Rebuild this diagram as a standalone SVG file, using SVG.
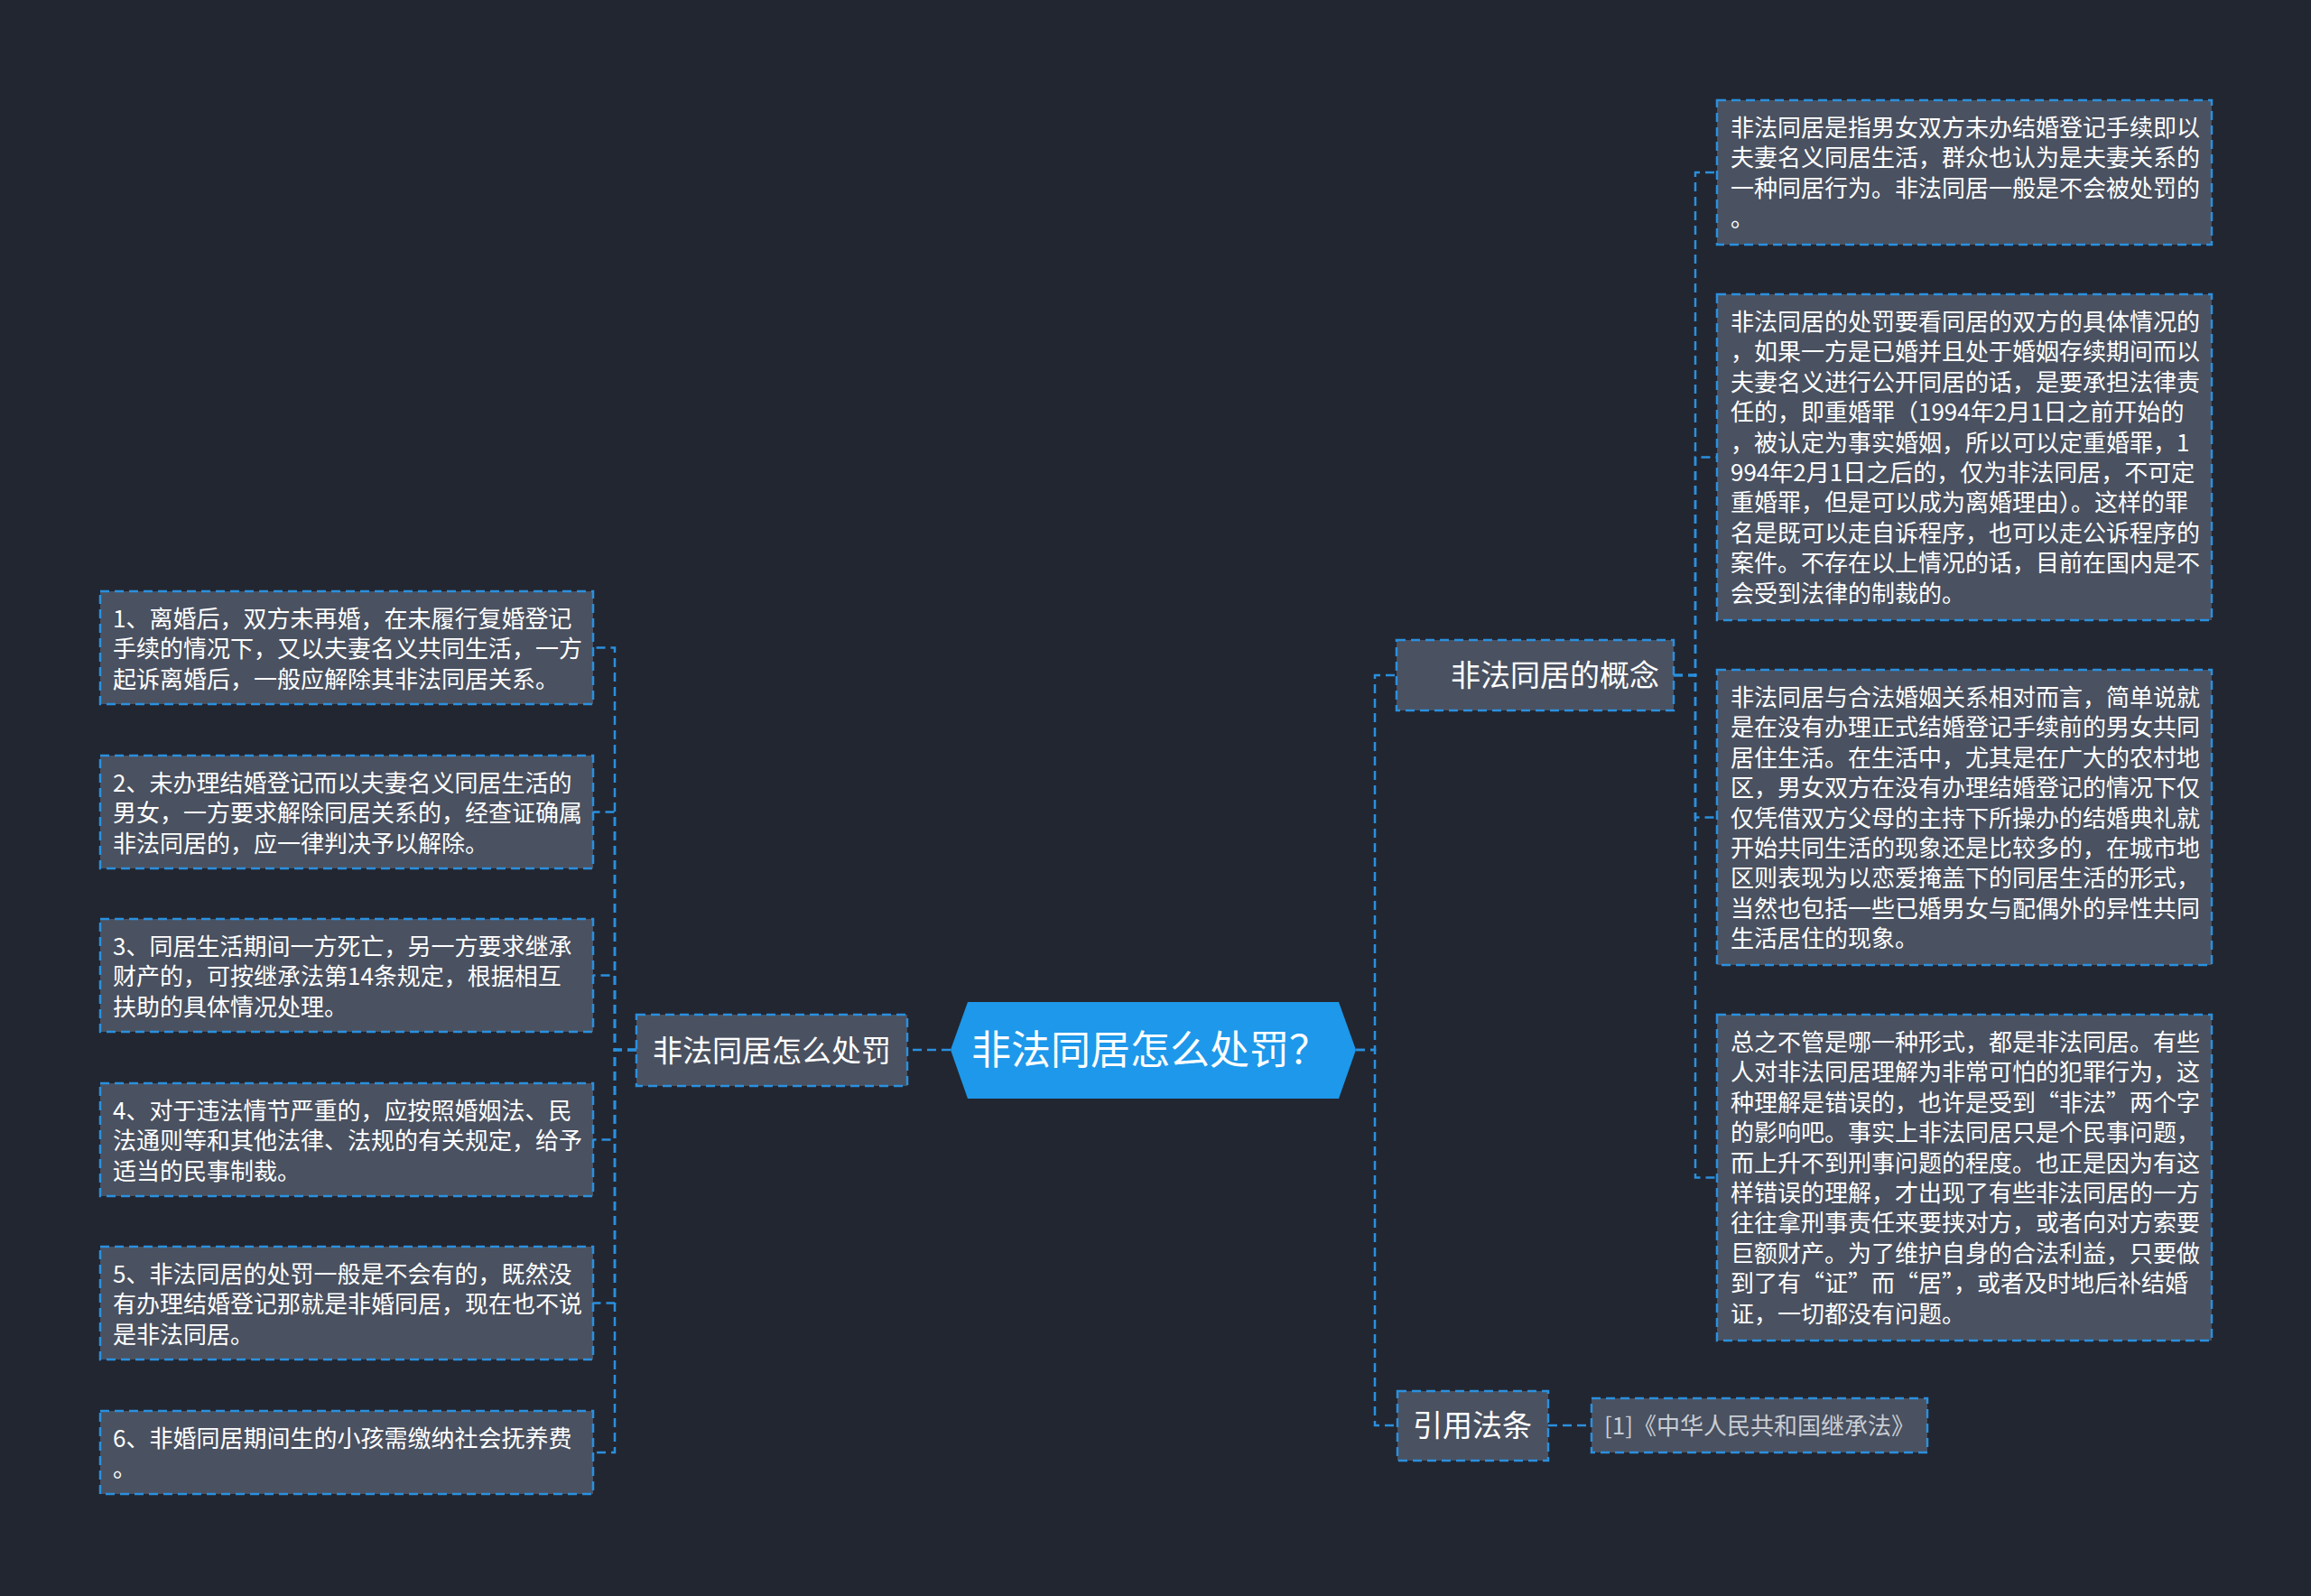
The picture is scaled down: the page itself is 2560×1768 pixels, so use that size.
<svg xmlns="http://www.w3.org/2000/svg" width="2560" height="1768" viewBox="0 0 2560 1768">
<style>
.bg{fill:#222631}
.box{fill:#4a5160;stroke:#2a90de;stroke-width:2.5;stroke-dasharray:10 6}
.conn{fill:none;stroke:#2a90de;stroke-width:2.5;stroke-dasharray:10 6}
.t{font-family:"Noto Sans CJK SC","Noto Sans",sans-serif;fill:#ffffff}
.s{font-size:26px}
.m{font-size:33px}
.c{font-size:26px;fill:#c9cdd4}
</style>
<rect class="bg" x="0" y="0" width="2560" height="1768"/>
<g id="connectors">
<path class="conn" d="M1053 1163 H1005"/>
<path class="conn" d="M705 1163 H681 V717.5 H657"/>
<path class="conn" d="M705 1163 H681 V899.5 H657"/>
<path class="conn" d="M705 1163 H681 V1080.5 H657"/>
<path class="conn" d="M705 1163 H681 V1262.5 H657"/>
<path class="conn" d="M705 1163 H681 V1443.5 H657"/>
<path class="conn" d="M705 1163 H681 V1609 H657"/>
<path class="conn" d="M1502 1163 H1523 V748 H1547"/>
<path class="conn" d="M1502 1163 H1523 V1579 H1548"/>
<path class="conn" d="M1854 748 H1878 V191 H1902"/>
<path class="conn" d="M1854 748 H1878 V506.5 H1902"/>
<path class="conn" d="M1854 748 H1878 V905.5 H1902"/>
<path class="conn" d="M1854 748 H1878 V1304.5 H1902"/>
<path class="conn" d="M1715 1579 H1763"/>
</g>
<g id="root">
<polygon points="1053,1163 1072,1110 1483,1110 1502,1163 1483,1217 1072,1217" fill="#1d98ea"/>
<text class="t" x="1076" y="1179" font-size="44">非法同居怎么处罚？</text>
</g>
<g id="node-punish">
<rect class="box" x="705" y="1124" width="300" height="79"/>
<text class="t m" x="723" y="1176">非法同居怎么处罚</text>
</g>
<g id="node-l1">
<rect class="box" x="111" y="655" width="546" height="125"/>
<text class="t s" x="125" y="695"><tspan x="125">1、离婚后，双方未再婚，在未履行复婚登记</tspan><tspan x="125" dy="33.4">手续的情况下，又以夫妻名义共同生活，一方</tspan><tspan x="125" dy="33.4">起诉离婚后，一般应解除其非法同居关系。</tspan></text>
</g>
<g id="node-l2">
<rect class="box" x="111" y="837" width="546" height="125"/>
<text class="t s" x="125" y="877"><tspan x="125">2、未办理结婚登记而以夫妻名义同居生活的</tspan><tspan x="125" dy="33.4">男女，一方要求解除同居关系的，经查证确属</tspan><tspan x="125" dy="33.4">非法同居的，应一律判决予以解除。</tspan></text>
</g>
<g id="node-l3">
<rect class="box" x="111" y="1018" width="546" height="125"/>
<text class="t s" x="125" y="1058"><tspan x="125">3、同居生活期间一方死亡，另一方要求继承</tspan><tspan x="125" dy="33.4">财产的，可按继承法第14条规定，根据相互</tspan><tspan x="125" dy="33.4">扶助的具体情况处理。</tspan></text>
</g>
<g id="node-l4">
<rect class="box" x="111" y="1200" width="546" height="125"/>
<text class="t s" x="125" y="1240"><tspan x="125">4、对于违法情节严重的，应按照婚姻法、民</tspan><tspan x="125" dy="33.4">法通则等和其他法律、法规的有关规定，给予</tspan><tspan x="125" dy="33.4">适当的民事制裁。</tspan></text>
</g>
<g id="node-l5">
<rect class="box" x="111" y="1381" width="546" height="125"/>
<text class="t s" x="125" y="1421"><tspan x="125">5、非法同居的处罚一般是不会有的，既然没</tspan><tspan x="125" dy="33.4">有办理结婚登记那就是非婚同居，现在也不说</tspan><tspan x="125" dy="33.4">是非法同居。</tspan></text>
</g>
<g id="node-l6">
<rect class="box" x="111" y="1563" width="546" height="92"/>
<text class="t s" x="125" y="1603"><tspan x="125">6、非婚同居期间生的小孩需缴纳社会抚养费</tspan><tspan x="125" dy="33.4">。</tspan></text>
</g>
<g id="node-concept">
<rect class="box" x="1547" y="709" width="307" height="78"/>
<text class="t m" x="1838" y="760" text-anchor="end">非法同居的概念</text>
</g>
<g id="node-r1">
<rect class="box" x="1902" y="111" width="548" height="160"/>
<text class="t s" x="1917" y="151"><tspan x="1917">非法同居是指男女双方未办结婚登记手续即以</tspan><tspan x="1917" dy="33.4">夫妻名义同居生活，群众也认为是夫妻关系的</tspan><tspan x="1917" dy="33.4">一种同居行为。非法同居一般是不会被处罚的</tspan><tspan x="1917" dy="33.4">。</tspan></text>
</g>
<g id="node-r2">
<rect class="box" x="1902" y="326" width="548" height="361"/>
<text class="t s" x="1917" y="366"><tspan x="1917">非法同居的处罚要看同居的双方的具体情况的</tspan><tspan x="1917" dy="33.4">，如果一方是已婚并且处于婚姻存续期间而以</tspan><tspan x="1917" dy="33.4">夫妻名义进行公开同居的话，是要承担法律责</tspan><tspan x="1917" dy="33.4">任的，即重婚罪（1994年2月1日之前开始的</tspan><tspan x="1917" dy="33.4">，被认定为事实婚姻，所以可以定重婚罪，1</tspan><tspan x="1917" dy="33.4">994年2月1日之后的，仅为非法同居，不可定</tspan><tspan x="1917" dy="33.4">重婚罪，但是可以成为离婚理由）。这样的罪</tspan><tspan x="1917" dy="33.4">名是既可以走自诉程序，也可以走公诉程序的</tspan><tspan x="1917" dy="33.4">案件。不存在以上情况的话，目前在国内是不</tspan><tspan x="1917" dy="33.4">会受到法律的制裁的。</tspan></text>
</g>
<g id="node-r3">
<rect class="box" x="1902" y="742" width="548" height="327"/>
<text class="t s" x="1917" y="782"><tspan x="1917">非法同居与合法婚姻关系相对而言，简单说就</tspan><tspan x="1917" dy="33.4">是在没有办理正式结婚登记手续前的男女共同</tspan><tspan x="1917" dy="33.4">居住生活。在生活中，尤其是在广大的农村地</tspan><tspan x="1917" dy="33.4">区，男女双方在没有办理结婚登记的情况下仅</tspan><tspan x="1917" dy="33.4">仅凭借双方父母的主持下所操办的结婚典礼就</tspan><tspan x="1917" dy="33.4">开始共同生活的现象还是比较多的，在城市地</tspan><tspan x="1917" dy="33.4">区则表现为以恋爱掩盖下的同居生活的形式，</tspan><tspan x="1917" dy="33.4">当然也包括一些已婚男女与配偶外的异性共同</tspan><tspan x="1917" dy="33.4">生活居住的现象。</tspan></text>
</g>
<g id="node-r4">
<rect class="box" x="1902" y="1124" width="548" height="361"/>
<text class="t s" x="1917" y="1164"><tspan x="1917">总之不管是哪一种形式，都是非法同居。有些</tspan><tspan x="1917" dy="33.4">人对非法同居理解为非常可怕的犯罪行为，这</tspan><tspan x="1917" dy="33.4">种理解是错误的，也许是受到“非法”两个字</tspan><tspan x="1917" dy="33.4">的影响吧。事实上非法同居只是个民事问题，</tspan><tspan x="1917" dy="33.4">而上升不到刑事问题的程度。也正是因为有这</tspan><tspan x="1917" dy="33.4">样错误的理解，才出现了有些非法同居的一方</tspan><tspan x="1917" dy="33.4">往往拿刑事责任来要挟对方，或者向对方索要</tspan><tspan x="1917" dy="33.4">巨额财产。为了维护自身的合法利益，只要做</tspan><tspan x="1917" dy="33.4">到了有“证”而“居”，或者及时地后补结婚</tspan><tspan x="1917" dy="33.4">证，一切都没有问题。</tspan></text>
</g>
<g id="node-law">
<rect class="box" x="1548" y="1541" width="167" height="77"/>
<text class="t m" x="1565" y="1591">引用法条</text>
</g>
<g id="node-law-ref">
<rect class="box" x="1763" y="1549" width="372" height="60"/>
<text class="t c" x="1777" y="1589">[1]《中华人民共和国继承法》</text>
</g>
</svg>
